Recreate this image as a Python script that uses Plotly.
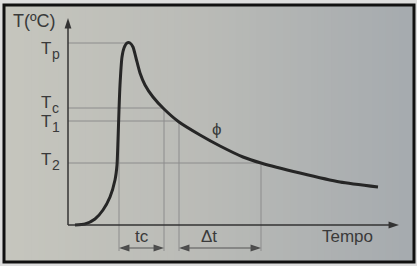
import plotly.graph_objects as go

# ---- data (time in arbitrary units from origin, temperature in arbitrary units) ----
curve_t = [7, 17, 27, 35, 42, 47, 49, 50, 51, 52, 54, 56, 59, 62, 65, 68, 72, 77, 85,
           96, 111, 132, 152, 175, 193, 232, 272, 310]
curve_T = [0, 1, 6, 15, 28, 45, 60, 85, 115, 140, 168, 177, 182, 182, 178, 167, 152,
           140, 128, 116, 103, 90, 79, 68, 62, 52, 43, 38]

level_main = ["T", "T", "T", "T"]
level_subs = ["p", "c", "1", "2"]
level_values = [182, 117, 104, 62]
level_ends = [58, 96, 111, 193]

mark_t = [51, 96, 111, 193]
mark_top = [117, 117, 104, 62]

interval_labels = ["tc", "Δt"]
interval_start = [51, 111]
interval_end = [96, 193]

axis_t_max = 331
axis_T_max = 207

y_title = "T(ºC)"
x_title = "Tempo"
curve_label = "ϕ"

W, H = 417, 266
FONT = "Liberation Sans, Arial, sans-serif"
TXT = "#3a3a3a"
DIM_Y = -23

fig = go.Figure()

fig.add_trace(go.Scatter(
    x=curve_t, y=curve_T, mode="lines",
    line=dict(color="#262626", width=3, shape="spline", smoothing=0.6),
    hoverinfo="skip", showlegend=False))

shapes = []
# background gradient (paper texture)
n = 60
c0 = (198, 198, 190)
c1 = (186, 187, 183)
c2 = (166, 171, 175)
for i in range(n):
    f = i / (n - 1)
    if f < 0.5:
        g = f / 0.5
        c = tuple(int(c0[k] + (c1[k] - c0[k]) * g) for k in range(3))
    else:
        g = (f - 0.5) / 0.5
        c = tuple(int(c1[k] + (c2[k] - c1[k]) * g) for k in range(3))
    x0 = 4 / W + i * (409 / W) / n
    x1 = 4 / W + (i + 1) * (409 / W) / n + 0.002
    shapes.append(dict(type="rect", xref="paper", yref="paper", x0=x0, x1=x1,
                       y0=(H - 262) / H, y1=(H - 5) / H,
                       fillcolor=f"rgb{c}", line=dict(width=0), layer="below"))

# horizontal guide lines
for v, e in zip(level_values, level_ends):
    shapes.append(dict(type="line", xref="x", yref="y", x0=0, x1=e, y0=v, y1=v,
                       line=dict(color="#8c8c8c", width=1), layer="below"))
# vertical guide lines
for t, top in zip(mark_t, mark_top):
    shapes.append(dict(type="line", xref="x", yref="y", x0=t, x1=t, y0=top, y1=-26,
                       line=dict(color="#8c8c8c", width=1), layer="below"))
# axes lines
shapes.append(dict(type="line", xref="x", yref="y", x0=0, x1=0, y0=0, y1=axis_T_max - 4,
                   line=dict(color="#333333", width=1.5)))
shapes.append(dict(type="line", xref="x", yref="y", x0=0, x1=axis_t_max - 4, y0=0, y1=0,
                   line=dict(color="#333333", width=1.5)))
# interval dimension lines
for s, e in zip(interval_start, interval_end):
    shapes.append(dict(type="line", xref="x", yref="y", x0=s + 4, x1=e - 4,
                       y0=DIM_Y, y1=DIM_Y, line=dict(color="#555555", width=1.2)))

# frame
shapes.append(dict(type="rect", xref="paper", yref="paper",
                   x0=4 / W, x1=414 / W, y0=(H - 262) / H, y1=(H - 5) / H,
                   line=dict(color="#111111", width=3)))

# arrow heads (tip located at the data point)
tips_x = [0, axis_t_max]
tips_y = [axis_T_max, 0]
tips_a = [0, 90]
for s, e in zip(interval_start, interval_end):
    tips_x += [s, e]
    tips_y += [DIM_Y, DIM_Y]
    tips_a += [-90, 90]
fig.add_trace(go.Scatter(
    x=tips_x, y=tips_y, mode="markers",
    marker=dict(symbol="arrow", size=11, angle=tips_a,
                color=["#333333", "#333333"] + ["#4a4a4a"] * 4,
                line=dict(width=0)),
    hoverinfo="skip", showlegend=False, cliponaxis=False))

ann = []
for lab, s, e in zip(interval_labels, interval_start, interval_end):
    ann.append(dict(x=(s + e) / 2 if lab == "tc" else s + 30, y=-11, xref="x", yref="y",
                    text=lab, showarrow=False, borderpad=0,
                    font=dict(family=FONT, size=17, color=TXT)))

# level labels: main letter + subscript as separate texts
main_y = [177, 123, 104, 66]
for m, s, my in zip(level_main, level_subs, main_y):
    ann.append(dict(x=-17, y=my, xref="x", yref="y", text=m, showarrow=False,
                    xanchor="right", yanchor="middle", borderpad=0, borderwidth=0,
                    font=dict(family=FONT, size=17, color=TXT)))
    ann.append(dict(x=-16, y=my - 6, xref="x", yref="y", text=s, showarrow=False,
                    xanchor="left", yanchor="middle", borderpad=0, borderwidth=0,
                    font=dict(family=FONT, size=14, color=TXT)))

ann.append(dict(x=-34, y=204, xref="x", yref="y", text=y_title, showarrow=False,
                borderpad=0, font=dict(family=FONT, size=18, color=TXT)))
ann.append(dict(x=279, y=-11, xref="x", yref="y", text=x_title, showarrow=False,
                borderpad=0, font=dict(family=FONT, size=17, color=TXT)))
ann.append(dict(x=149, y=96, xref="x", yref="y", text=curve_label, showarrow=False,
                borderpad=0, font=dict(family=FONT, size=17, color=TXT)))

fig.update_layout(
    width=W, height=H, autosize=False,
    margin=dict(l=0, r=0, t=0, b=0),
    paper_bgcolor="#dedede", plot_bgcolor="rgba(0,0,0,0)",
    xaxis=dict(range=[-68, 349], visible=False, fixedrange=True),
    yaxis=dict(range=[-41, 225], visible=False, fixedrange=True),
    shapes=shapes, annotations=ann, showlegend=False,
)

fig.write_html("out.html")
